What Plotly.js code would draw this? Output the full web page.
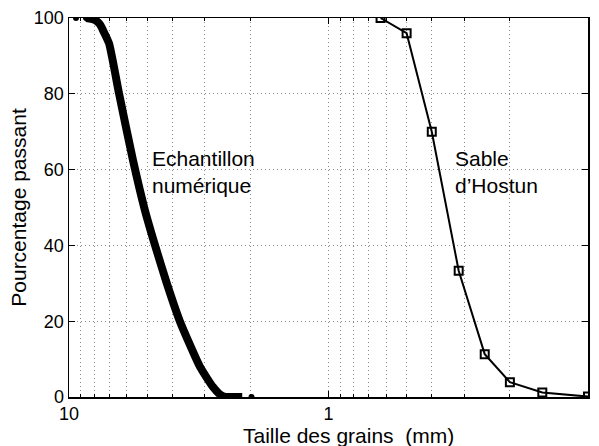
<!DOCTYPE html>
<html>
<head>
<meta charset="utf-8">
<script src="https://cdn.plot.ly/plotly-3.0.1.min.js"></script>
<style>html,body{margin:0;padding:0;background:#fff;}#chart{width:599px;height:446px;}</style>
</head>
<body>
<div id="chart"></div>
<script>
// Numerical sample (Echantillon numérique): grain size (mm) and % passing (dense curve)
const numSize = [8.6, 8.2, 7.9, 7.6, 7.4, 7.01, 6.42, 5.67, 5.1, 4.66, 4.2, 3.74, 3.13, 2.79, 2.6, 2.5, 2.3, 2.15];
const numPass = [100, 99.8, 99.4, 98.3, 96.8, 93.3, 80.2, 62.5, 49.3, 40, 30, 20, 8, 2.7, 0.5, 0, 0, 0];
// isolated extreme grains of the numerical sample
const numDotSize = [9.4, 8.6, 1.98];
const numDotPass = [100, 100, 0];

// Sable d'Hostun
const hosSize = [0.63, 0.5, 0.4, 0.315, 0.25, 0.2, 0.15, 0.1];
const hosPass = [100, 96, 70, 33.3, 11.3, 3.9, 1.2, 0.1];

// Axis ticks
const xMajorVals = [0.1, 1, 10];
const xMajorText = ['0.1', '1', '10'];
const xMinorVals = [0.2,0.3,0.4,0.5,0.6,0.7,0.8,0.9,2,3,4,5,6,7,8,9];
const yTickVals = [0, 20, 40, 60, 80, 100];

const fontFam = 'Liberation Sans, Arial, Helvetica, sans-serif';
const gridDash = '1px,3px';
const gridCol = '#8a8a8a';

const traces = [
  {
    x: numSize, y: numPass, type: 'scatter', mode: 'lines',
    line: {color: '#000', width: 8, shape: 'spline', smoothing: 0.5},
    hoverinfo: 'skip'
  },
  {
    x: numDotSize, y: numDotPass, type: 'scatter', mode: 'markers',
    marker: {color: '#000', size: 6, symbol: 'circle'},
    hoverinfo: 'skip'
  },
  {
    x: hosSize, y: hosPass, type: 'scatter', mode: 'lines+markers',
    line: {color: '#000', width: 2},
    marker: {color: '#000', size: 8, symbol: 'square-open', line: {color: '#000', width: 2}},
    hoverinfo: 'skip'
  }
];

const layout = {
  width: 599, height: 446,
  margin: {l: 69, r: 11, t: 18, b: 49},
  paper_bgcolor: '#fff', plot_bgcolor: '#fff',
  showlegend: false,
  font: {family: fontFam, size: 18, color: '#000'},
  xaxis: {
    type: 'log', range: [1, -1],
    tickmode: 'array', tickvals: xMajorVals, ticktext: xMajorText,
    ticks: 'inside', ticklen: 6, tickcolor: '#000', tickwidth: 1,
    minor: {tickmode: 'array', tickvals: xMinorVals, ticks: 'inside', ticklen: 3, tickcolor: '#000', tickwidth: 1,
            showgrid: true, gridcolor: gridCol, griddash: gridDash, gridwidth: 1},
    showline: true, linecolor: '#000', linewidth: 1.5, mirror: 'ticks',
    showgrid: true, gridcolor: gridCol, griddash: gridDash, gridwidth: 1,
    zeroline: false,
    tickfont: {family: fontFam, size: 18, color: '#000'},
    automargin: false
  },
  yaxis: {
    range: [0, 100],
    tickvals: yTickVals,
    ticks: 'inside', ticklen: 6, tickcolor: '#000', tickwidth: 1,
    showline: true, linecolor: '#000', linewidth: 1.5, mirror: 'ticks',
    showgrid: true, gridcolor: gridCol, griddash: gridDash, gridwidth: 1,
    zeroline: false,
    tickfont: {family: fontFam, size: 18, color: '#000'},
    title: {text: 'Pourcentage passant', font: {family: fontFam, size: 21, color: '#000'}, standoff: 1},
    automargin: false
  },
  annotations: [
    {xref: 'paper', yref: 'paper', x: 0.5376, y: -0.1003, text: 'Taille des grains\u00a0\u00a0(mm)', showarrow: false, xanchor: 'center', yanchor: 'middle', font: {family: fontFam, size: 21, color: '#000'}},
    {xref: 'x', yref: 'y', x: Math.log10(4.87), y: 62.8, text: 'Echantillon', showarrow: false, xanchor: 'left', yanchor: 'middle', font: {family: fontFam, size: 21, color: '#000'}},
    {xref: 'x', yref: 'y', x: Math.log10(4.87), y: 55.7, text: 'numérique', showarrow: false, xanchor: 'left', yanchor: 'middle', font: {family: fontFam, size: 21, color: '#000'}},
    {xref: 'x', yref: 'y', x: Math.log10(0.331), y: 62.8, text: 'Sable', showarrow: false, xanchor: 'left', yanchor: 'middle', font: {family: fontFam, size: 21, color: '#000'}},
    {xref: 'x', yref: 'y', x: Math.log10(0.331), y: 55.7, text: 'd\u2019Hostun', showarrow: false, xanchor: 'left', yanchor: 'middle', font: {family: fontFam, size: 21, color: '#000'}}
  ]
};

Plotly.newPlot('chart', traces, layout, {staticPlot: true, displayModeBar: false});
</script>
</body>
</html>
